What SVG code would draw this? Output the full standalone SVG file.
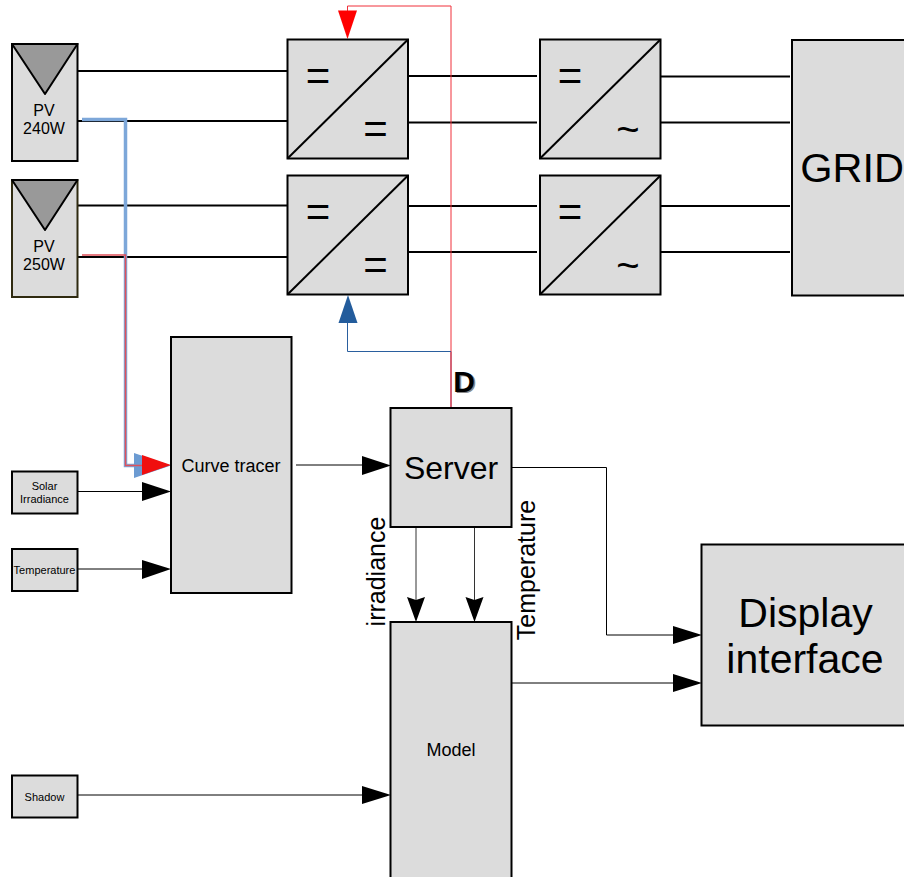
<svg xmlns="http://www.w3.org/2000/svg" width="904" height="877" viewBox="0 0 904 877">
<style>
text{font-family:"Liberation Sans",Arial,sans-serif;fill:#000;text-anchor:middle}
.b{fill:#dcdcdc;stroke:#000;stroke-width:2}
.k{fill:none;stroke:#000;stroke-width:2}
.t{fill:none;stroke:#000;stroke-width:1}
.d{fill:none;stroke:#000;stroke-width:2}
.p{fill:#999;stroke:#000;stroke-width:2;stroke-linejoin:round}
</style>
<rect width="904" height="877" fill="#fff"/>
<g id="connectors">
<path class="k" d="M78 71H287M78 121H287M78 205.500H287M78 257H287M409 76H537M409 122.500H537M409 206H537M409 252H537M661 76.500H790M661 122.500H790M661 206H790M661 252H790"/>
<path d="M82 119.500H125.500V465.500H140" fill="none" stroke="#7da7d9" stroke-width="3.500"/>
<path d="M134 453L171 465.500L134 478Z" fill="#6c9bd2"/>
<path d="M82 255H125.500V465.500H142" fill="none" stroke="#e0505a" stroke-width="1.500"/>
<path d="M142 455L171 465L142 475Z" fill="#f00f0f"/>
<path class="t" d="M78 491.500H142"/><path d="M142 482L171 491.500L142 501Z"/>
<path class="t" d="M78 569H142"/><path d="M142 560L171 569L142 579Z"/>
<path class="t" d="M296 465H362"/><path d="M362 456L391 465.500L362 475Z"/>
<path d="M451 408V6H347.500V12" fill="none" stroke="#f0303a" stroke-width="1"/>
<path d="M338 10.500H357L347.500 39Z" fill="#f00"/>
<path d="M451 351.500H347.500V323" fill="none" stroke="#2a5f9e" stroke-width="1"/>
<path d="M451 351.500V408" fill="none" stroke="#b03050" stroke-width="1"/>
<path d="M338.500 323H357.500L348 295Z" fill="#235c9c"/>
<path d="M416 527V600M474.500 527V600" fill="none" stroke="#333" stroke-width="1"/>
<path d="M407 597L416 600L425 597L416 622Z"/>
<path d="M465.500 597L474.500 600L483.500 597L474.500 622Z"/>
<path class="t" d="M512 467.500H606.500V635H673"/><path d="M673 626L702 635L673 644Z"/>
<path class="t" d="M512 683H673"/><path d="M673 674L702 683L673 692Z"/>
<path class="t" d="M78 795H362"/><path d="M362 786L391 795L362 804Z"/>
</g>
<g id="pv240"><rect class="b" x="12" y="44" width="65.500" height="117"/><path class="p" d="M12 44H77.500L45 94Z"/><text x="44" y="116" font-size="16">PV</text><text x="44" y="134" font-size="16">240W</text></g>
<g id="pv250"><rect class="b" x="12" y="180" width="65.500" height="117" style="stroke:#2f2a10"/><path class="p" d="M12 180H77.500L45 230Z"/><text x="44" y="252" font-size="16">PV</text><text x="44" y="270" font-size="16">250W</text></g>
<g id="dcdc1"><rect class="b" x="287.500" y="39.500" width="120.500" height="119"/><path class="d" d="M287.500 158.500L408 39.500"/><text x="318" y="90" font-size="42">=</text><text x="375.500" y="143" font-size="42">=</text></g>
<g id="dcdc2"><rect class="b" x="287.500" y="175.500" width="120.500" height="119"/><path class="d" d="M287.500 294.500L408 175.500"/><text x="318" y="226" font-size="42">=</text><text x="375.500" y="279" font-size="42">=</text></g>
<g id="dcac1"><rect class="b" x="540" y="39.500" width="120.500" height="119"/><path class="d" d="M540 158.500L660.500 39.500"/><text x="570" y="90" font-size="42">=</text><text x="628" y="143" font-size="40">~</text></g>
<g id="dcac2"><rect class="b" x="540" y="175.500" width="120.500" height="119"/><path class="d" d="M540 294.500L660.500 175.500"/><text x="570" y="226" font-size="42">=</text><text x="628" y="279" font-size="40">~</text></g>
<g id="grid"><rect class="b" x="792" y="40" width="122" height="255.500"/><text x="852" y="182" font-size="41.500">GRID</text></g>
<g id="curve-tracer"><rect class="b" x="171" y="337" width="120.500" height="256"/><text x="231" y="472" font-size="18">Curve tracer</text></g>
<g id="solar"><rect class="b" x="12" y="471.500" width="65.500" height="42"/><text x="44.500" y="490" font-size="11">Solar</text><text x="44.500" y="503" font-size="11">Irradiance</text></g>
<g id="temperature"><rect class="b" x="12" y="549" width="65.500" height="42"/><text x="44.500" y="574" font-size="11">Temperature</text></g>
<g id="shadow"><rect class="b" x="12" y="775.500" width="65.500" height="42"/><text x="44.500" y="801" font-size="11">Shadow</text></g>
<g id="server"><rect class="b" x="390.500" y="408" width="121" height="119"/><text x="451" y="479" font-size="32">Server</text></g>
<g id="model"><rect class="b" x="390.500" y="622" width="121" height="265"/><text x="451" y="756" font-size="18">Model</text></g>
<g id="display"><rect class="b" x="701.500" y="544.500" width="212" height="181"/><text x="805.500" y="627" font-size="41">Display</text><text x="805" y="673" font-size="41">interface</text></g>
<g id="labels">
<text x="465.500" y="393" font-size="30" font-weight="bold" style="fill:#888">D</text>
<text x="464" y="392" font-size="30" font-weight="bold">D</text>
<text transform="translate(385 571.500) rotate(-90)" font-size="25">irradiance</text>
<text transform="translate(535 570) rotate(-90)" font-size="25">Temperature</text>
</g>
</svg>
